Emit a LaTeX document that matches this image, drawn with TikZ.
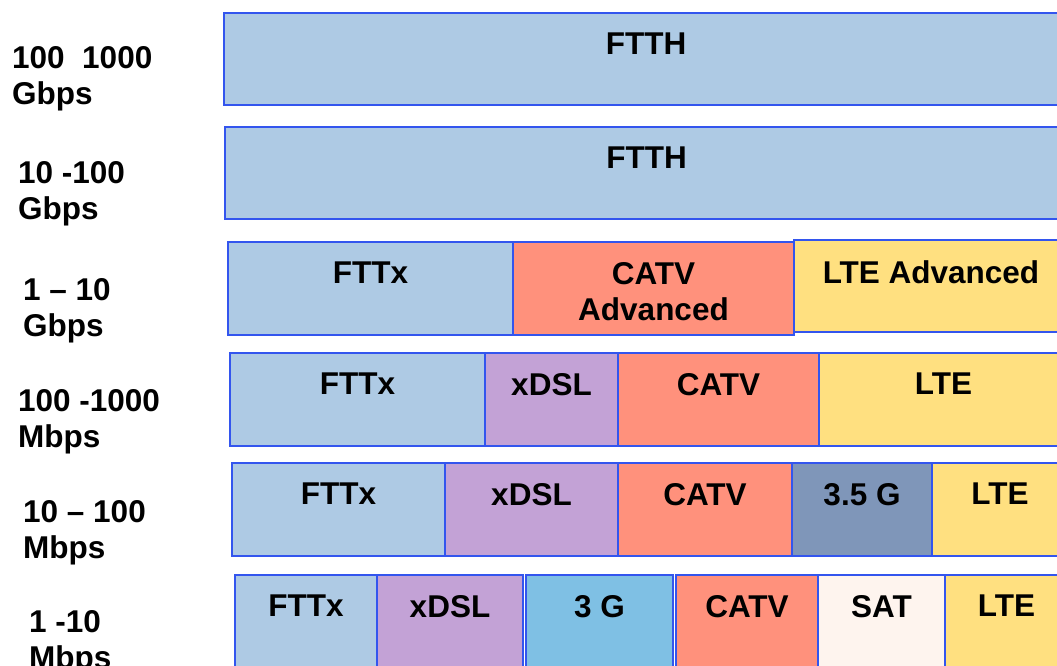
\documentclass[tikz,border=0pt]{standalone}
\usepackage{fontspec}
\setmainfont{Liberation Sans}
\usepackage{tikz}

\definecolor{fibreblue}{RGB}{174,202,228}
\definecolor{catvred}{RGB}{255,145,124}
\definecolor{lteyellow}{RGB}{255,224,128}
\definecolor{dslpurple}{RGB}{195,162,214}
\definecolor{slateblue}{RGB}{127,150,185}
\definecolor{skyblue}{RGB}{127,192,228}
\definecolor{satwhite}{RGB}{254,244,238}
\definecolor{edgeblue}{RGB}{51,85,238}

\tikzset{
  cellbox/.style={draw=edgeblue, line width=1.6pt},
  celltext/.style={anchor=north, inner sep=0pt, align=center,
    font=\fontsize{31.5}{36}\selectfont\bfseries},
  ratetext/.style={anchor=north west, inner sep=0pt, align=left,
    font=\fontsize{31.5}{36}\selectfont\bfseries}
}

% name, x1, y1, x2, y2, fill, label
\newcommand{\techcell}[7]{%
  \draw[cellbox, fill=#6] (#2,#3) rectangle (#4,#5);
  \node[celltext] (#1) at ({(#2+#4)/2},#3+20) {#7};
}

\begin{document}
\begin{tikzpicture}[x=1pt, y=-1pt]
  \useasboundingbox (0,0) rectangle (1057,666);

  % speed classes
  \node[ratetext] (rate1) at (12,46)  {100\ \ 1000\\Gbps};
  \node[ratetext] (rate2) at (18,161) {10 -100\\Gbps};
  \node[ratetext] (rate3) at (23,278) {1 – 10\\Gbps};
  \node[ratetext] (rate4) at (18,389) {100 -1000\\Mbps};
  \node[ratetext] (rate5) at (23,500) {10 – 100\\Mbps};
  \node[ratetext] (rate6) at (29,610) {1 -10\\Mbps};

  % row 1 and 2
  \techcell{ftth1}{224}{13}{1068}{105}{fibreblue}{FTTH}
  \techcell{ftth2}{225}{127}{1068}{219}{fibreblue}{FTTH}

  % row 3
  \techcell{fttx3}{228}{242}{513}{335}{fibreblue}{FTTx}
  \techcell{catv3}{513}{242}{794}{335}{catvred}{CATV\\Advanced}
  \techcell{lte3}{794}{240}{1068}{332}{lteyellow}{LTE Advanced}

  % row 4
  \techcell{fttx4}{230}{353}{485}{446}{fibreblue}{FTTx}
  \techcell{dsl4}{485}{353}{618}{446}{dslpurple}{xDSL}
  \techcell{catv4}{618}{353}{819}{446}{catvred}{CATV}
  \techcell{lte4}{819}{353}{1068}{446}{lteyellow}{LTE}

  % row 5
  \techcell{fttx5}{232}{463}{445}{556}{fibreblue}{FTTx}
  \techcell{dsl5}{445}{463}{618}{556}{dslpurple}{xDSL}
  \techcell{catv5}{618}{463}{792}{556}{catvred}{CATV}
  \techcell{hspa5}{792}{463}{932}{556}{slateblue}{3.5 G}
  \techcell{lte5}{932}{463}{1068}{556}{lteyellow}{LTE}

  % row 6
  \techcell{fttx6}{235}{575}{377}{700}{fibreblue}{FTTx}
  \techcell{dsl6}{377}{575}{523}{700}{dslpurple}{xDSL}
  \techcell{umts6}{526}{575}{673}{700}{skyblue}{3 G}
  \techcell{catv6}{676}{575}{818}{700}{catvred}{CATV}
  \techcell{sat6}{818}{575}{945}{700}{satwhite}{SAT}
  \techcell{lte6}{945}{575}{1068}{700}{lteyellow}{LTE}
\end{tikzpicture}
\end{document}
